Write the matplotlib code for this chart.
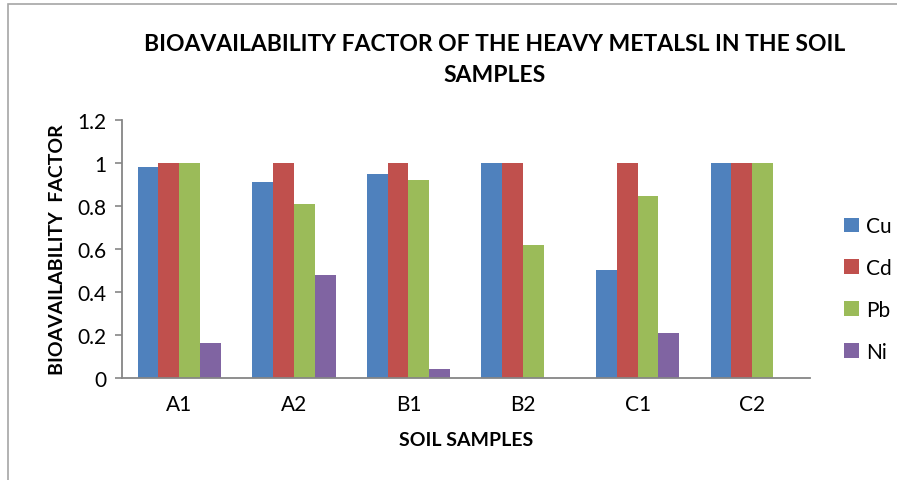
import matplotlib
matplotlib.use("Agg")
import matplotlib.pyplot as plt
import numpy as np
from matplotlib.patches import Rectangle

# -- Data -----------------------------------------------------------------------
samples = ["A1", "A2", "B1", "B2", "C1", "C2"]
metals = ["Cu", "Cd", "Pb", "Ni"]
cu = [0.98, 0.91, 0.95, 1.0, 0.50, 1.0]
cd = [1.0, 1.0, 1.0, 1.0, 1.0, 1.0]
pb = [1.0, 0.81, 0.92, 0.62, 0.845, 1.0]
ni = [0.16, 0.48, 0.04, 0.0, 0.21, 0.0]
y_ticks = [0, 0.2, 0.4, 0.6, 0.8, 1, 1.2]
y_tick_labels = ["0", "0.2", "0.4", "0.6", "0.8", "1", "1.2"]

# -- Style ----------------------------------------------------------------------
COLORS = ["#4F81BD", "#C0504D", "#9BBB59", "#8064A2"]
AXIS_GREY = "#868686"
FONT = "Lato"

plt.rcParams["font.family"] = FONT

fig = plt.figure(figsize=(8.97, 4.81), dpi=100)
ax = fig.add_axes([0.136, 0.2127, 0.7665, 0.5357])

# outer chart frame (Excel chart area border, only left/top visible)
fig.patches.append(Rectangle((8 / 897, -0.1), 1.2, 1.1 - 5 / 481,
                             transform=fig.transFigure, fill=False,
                             edgecolor="#A6A6A6", linewidth=1.2))

x = np.arange(len(samples))
w = 1 / 5.5
series = [cu, cd, pb, ni]
for i, (vals, name) in enumerate(zip(series, metals)):
    ax.bar(x + (i - 1.5) * w, vals, w, color=COLORS[i], label=name,
           edgecolor="none")

ax.set_xlim(-0.5, len(samples) - 0.5)
ax.set_ylim(0, 1.2)
ax.set_yticks(y_ticks)
ax.set_yticklabels(y_tick_labels, fontsize=15)
ax.set_xticks(x)
ax.set_xticklabels(samples, fontsize=15)

for side in ["top", "right"]:
    ax.spines[side].set_visible(False)
for side in ["left", "bottom"]:
    ax.spines[side].set_color(AXIS_GREY)
    ax.spines[side].set_linewidth(1.3)
ax.tick_params(axis="y", direction="out", length=5, width=1.2, color=AXIS_GREY, pad=6)
ax.tick_params(axis="x", length=0, pad=12)

ax.set_xlabel("SOIL SAMPLES", fontsize=14, fontweight="bold", labelpad=12)
ax.set_ylabel("BIOAVAILABILITY  FACTOR", fontsize=14, fontweight="bold", labelpad=8)

fig.text(0.551, 1 - 60 / 481, "BIOAVAILABILITY FACTOR OF THE HEAVY METALSL IN THE SOIL\nSAMPLES",
         ha="center", va="center", fontsize=16.5, fontweight="bold", linespacing=1.6)

ax.legend(loc="center left", bbox_to_anchor=(0.941, 1 - 290 / 481), bbox_transform=fig.transFigure,
          frameon=False, fontsize=15, handlelength=0.7, handleheight=0.7,
          handletextpad=0.35, labelspacing=1.05, borderaxespad=0, borderpad=0)

fig.savefig("out.png", dpi=100)
